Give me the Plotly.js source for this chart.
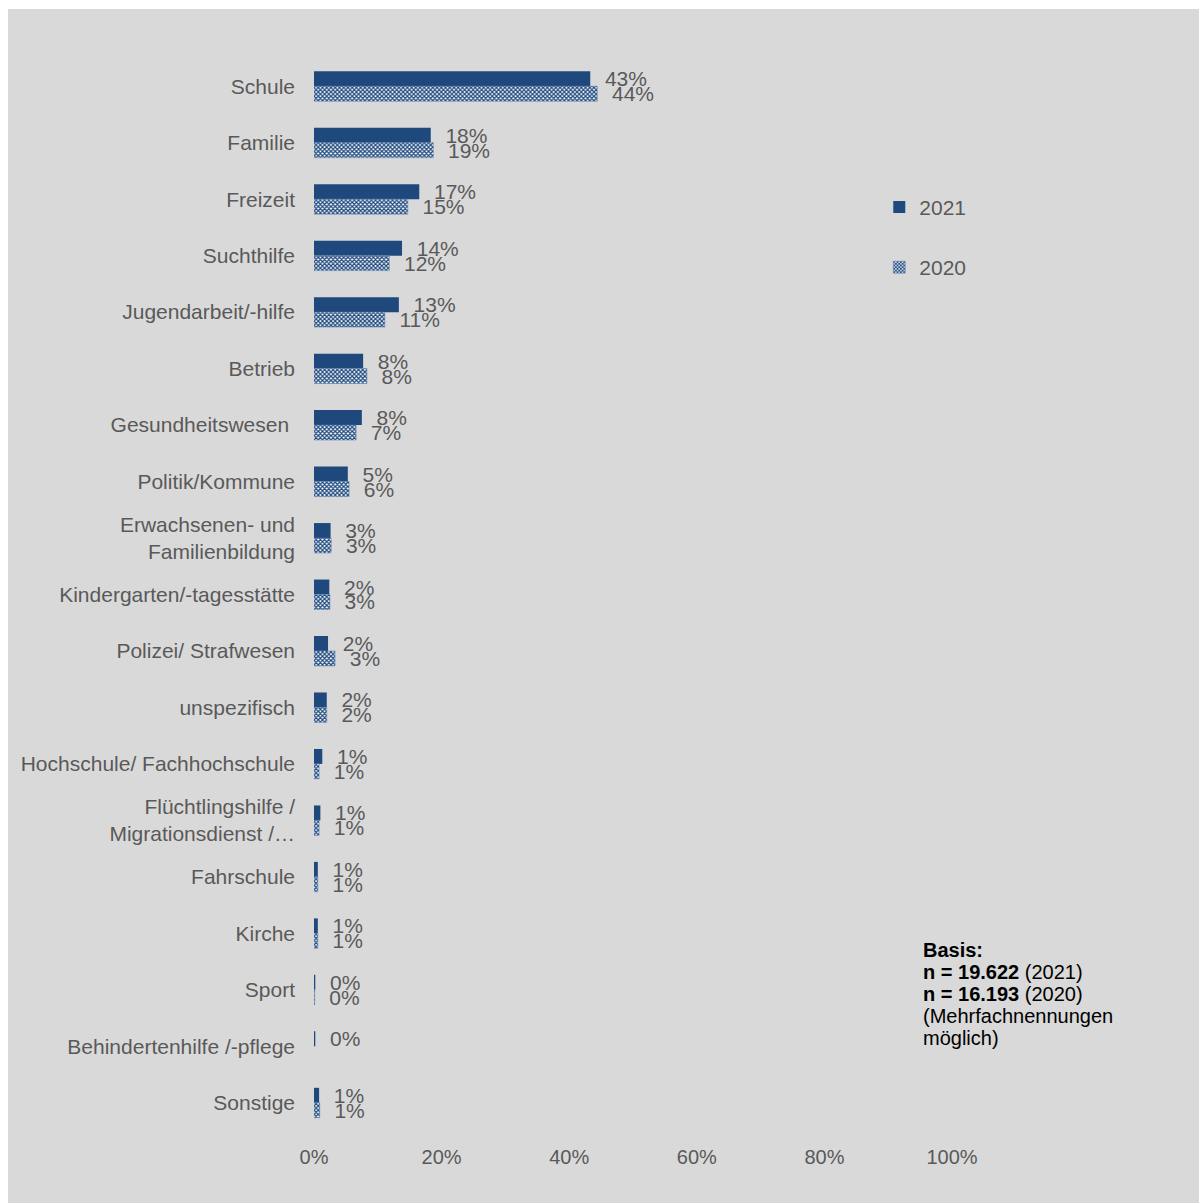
<!DOCTYPE html>
<html>
<head>
<meta charset="utf-8">
<script src="https://cdn.plot.ly/plotly-3.0.1.min.js"></script>
<style>
  html, body { margin: 0; padding: 0; background: #ffffff; }
  #chart { position: absolute; left: 8px; top: 9px; width: 1191px; height: 1194px; }
</style>
</head>
<body>
<div id="chart"></div>
<script>
const categories = [
  "Schule", "Familie", "Freizeit", "Suchthilfe", "Jugendarbeit/-hilfe", "Betrieb",
  "Gesundheitswesen\u00a0", "Politik/Kommune", "Erwachsenen- und<br>Familienbildung",
  "Kindergarten/-tagesstätte", "Polizei/ Strafwesen", "unspezifisch",
  "Hochschule/ Fachhochschule", "Flüchtlingshilfe /<br>Migrationsdienst /…",
  "Fahrschule", "Kirche", "Sport", "Behindertenhilfe /-pflege", "Sonstige"
];
const values2021 = [0.433, 0.183, 0.165, 0.138, 0.133, 0.077, 0.075, 0.053, 0.026, 0.024, 0.022, 0.020, 0.013, 0.010, 0.006, 0.006, 0.002, 0.002, 0.008];
const values2020 = [0.444, 0.187, 0.147, 0.118, 0.111, 0.083, 0.066, 0.055, 0.027, 0.025, 0.033, 0.020, 0.008, 0.008, 0.006, 0.006, 0.001, null, 0.009];
const seriesNames = ["2021", "2020"];
const tickValues = [0, 0.2, 0.4, 0.6, 0.8, 1.0];

const navy = "#1f497d";
const grey = "#595959";
const font = "Liberation Sans, Arial, sans-serif";
const pad = "\u00a0\u00a0";

const traces = [
  {
    type: "bar", orientation: "h", name: seriesNames[0], legendgroup: "a",
    y: categories, x: values2021,
    marker: { color: navy, line: { color: navy, width: 0 } },
    texttemplate: pad + "%{x:.0%}", textposition: "outside", cliponaxis: false, constraintext: "none",
    textfont: { family: font, size: 21, color: grey },
    hoverinfo: "skip"
  },
  {
    type: "bar", orientation: "h", name: seriesNames[1], legendgroup: "b",
    y: categories, x: values2020,
    marker: {
      color: "#ffffff",
      line: { color: "#5b7fb0", width: 0.5 },
      pattern: { shape: "x", fgcolor: navy, bgcolor: "#ffffff", size: 3, solidity: 0.65, fillmode: "replace" }
    },
    texttemplate: pad + "%{x:.0%}", textposition: "outside", cliponaxis: false, constraintext: "none",
    textfont: { family: font, size: 21, color: grey },
    hoverinfo: "skip"
  }
];

const basisY = 0.181;
const layout = {
  paper_bgcolor: "#d9d9d9",
  plot_bgcolor: "#d9d9d9",
  font: { family: font, size: 21, color: grey },
  margin: { l: 306, r: 247, t: 49, b: 72 },
  barmode: "group",
  bargap: 0.47,
  bargroupgap: 0,
  xaxis: {
    range: [0, 1], tickvals: tickValues, tickformat: ".0%",
    showgrid: false, zeroline: false, showline: false, ticks: "",
    tickfont: { family: font, size: 20, color: grey },
    ticklabelstandoff: 12, fixedrange: true
  },
  yaxis: {
    type: "category", autorange: "reversed",
    showgrid: false, zeroline: false, showline: false, ticks: "",
    tickfont: { family: font, size: 21, color: grey },
    ticklabelstandoff: 18, fixedrange: true
  },
  legend: {
    x: 0.886, y: 0.88, xanchor: "left", yanchor: "top",
    bgcolor: "rgba(0,0,0,0)", font: { family: font, size: 21, color: grey },
    tracegroupgap: 30, traceorder: "grouped", itemwidth: 30
  },
  showlegend: true,
  annotations: [
    { text: "<b>Basis:</b>", yshift: 0 },
    { text: "<b>n = 19.622</b> (2021)", yshift: -22 },
    { text: "<b>n = 16.193</b> (2020)", yshift: -44 },
    { text: "(Mehrfachnennungen", yshift: -66 },
    { text: "möglich)", yshift: -88 }
  ].map(a => ({
    text: a.text, xref: "paper", yref: "paper", x: 0.9515, y: basisY,
    xanchor: "left", yanchor: "top", yshift: a.yshift, showarrow: false, align: "left",
    font: { family: font, size: 20, color: "#000000" }
  }))
};

Plotly.newPlot("chart", traces, layout, { displayModeBar: false, staticPlot: true });
</script>
</body>
</html>
